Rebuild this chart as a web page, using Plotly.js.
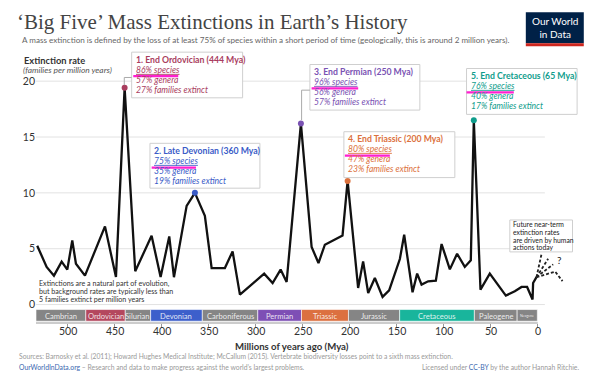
<!DOCTYPE html>
<html><head><meta charset="utf-8">
<script src="https://cdn.plot.ly/plotly-3.0.1.min.js"></script>
<style>html,body{margin:0;padding:0;background:#fff;} #chart{width:590px;height:379px;}</style>
</head><body><div id="chart"></div>
<script>
// ---- data ----
const mya = [532.7, 522.7, 514.9, 506.7, 500.7, 495.4, 491.5, 481.9, 460.6, 448.9, 439.7, 428.4, 411, 401.4, 392.2, 387.2, 373.7, 364.9, 354.3, 347.1, 333, 324.8, 317, 291.2, 282.2, 273.7, 267.3, 252.1, 240.7, 233.4, 226.6, 207.8, 202.4, 191.2, 185.9, 180.5, 173.4, 165.2, 158.2, 146.8, 142.2, 133.3, 128.4, 123.7, 116.7, 108.5, 102.4, 93.6, 85.9, 77.7, 71.3, 68.1, 61, 51.1, 34, 24.5, 17.3, 11.4, 5.6, 5, 1.4];
const rate = [5.27, 3.37, 2.59, 3.84, 3.13, 5.74, 3.66, 2.59, 7.0, 2.47, 19.4, 2.98, 6.16, 2.47, 6.1, 2.45, 8.84, 10.0, 7.95, 3.27, 3.27, 4.76, 0.89, 2.77, 1.93, 3.13, 2.02, 16.2, 5.15, 3.72, 5.36, 6.19, 11.07, 1.49, 3.87, 1.04, 2.38, 0.69, 1.28, 4.08, 6.25, 1.1, 2.77, 1.79, 2.08, 2.14, 5.42, 3.15, 4.55, 3.37, 3.96, 16.5, 1.34, 2.77, 0.8, 1.19, 1.58, 1.58, 0.45, 1.93, 2.45];

const eventNames = ['1. End Ordovician (444 Mya)', '2. Late Devonian (360 Mya)', '3. End Permian (250 Mya)', '4. End Triassic (200 Mya)', '5. End Cretaceous (65 Mya)'];
const eventMya = [439.7, 364.9, 252.1, 202.4, 68.1];
const eventRate = [19.4, 10.0, 16.2, 11.07, 16.5];
const eventSpecies = ['86% species', '75% species', '96% species', '80% species', '76% species'];
const eventGenera = ['57% genera', '35% genera', '56% genera', '47% genera', '40% genera'];
const eventFamilies = ['27% families extinct', '19% families extinct', '57% families extinct', '23% families extinct', '17% families extinct'];
const eventColors = ['#a93d5e', '#3a5bc7', '#7a52b3', '#dc713d', '#0f9d8c'];

const periodNames = ['Cambrian', 'Ordovician', 'Silurian', 'Devonian', 'Carboniferous', 'Permian', 'Triassic', 'Jurassic', 'Cretaceous', 'Paleogene', 'Neogene'];
const periodStart = [541, 481, 439, 412, 357, 298, 251.5, 201.5, 147, 67.5, 22];
const periodEnd = [481, 439, 412, 357, 298, 251.5, 201.5, 147, 67.5, 22, 0.5];
const periodColors = ['#858585', '#b4475e', '#858585', '#3d5fcb', '#858585', '#7e4fb5', '#dc7040', '#858585', '#19b59c', '#858585', '#858585'];

const futureMya = [[1.4, -3.9], [1.4, -11], [1.4, -16.3], [1.4, -18.5, -26.3]];
const futureRate = [[2.45, 4.5], [2.45, 4.1], [2.45, 3.6], [2.45, 2.95, 2.1]];

const yTicks = [0, 5, 10, 15, 20];
const xTicks = [500, 450, 400, 350, 300, 250, 200, 150, 100, 50, 0];

// ---- layout geometry ----
const W = 590, H = 379, ML = 36, MR = 23.8, MT = 69.8, MB = 55.5;
const PW = W - ML - MR, PH = H - MT - MB;
const px = X => (X - ML) / PW;
const py = Y => (H - MB - Y) / PH;
const FONT = 'Lato, "Open Sans", sans-serif';
// multi-line text block: base size sets line spacing, spans set glyph size
const tight = (lines, size) => lines.map(l => '<span style="font-size:' + size + 'px">' + l + '</span>').join('<br>');

const traces = [];
traces.push({x: mya, y: rate, type: 'scatter', mode: 'lines', line: {color: '#111', width: 2.3}, hoverinfo: 'skip'});
futureMya.forEach((fx, i) => traces.push({x: fx, y: futureRate[i], type: 'scatter', mode: 'lines', line: {color: '#222', width: 1.8, dash: '3px,2px'}, hoverinfo: 'skip'}));
traces.push({x: eventMya, y: eventRate, type: 'scatter', mode: 'markers', marker: {color: eventColors, size: 6}, hoverinfo: 'skip'});

const shapes = [];
const annotations = [];
// gridlines
yTicks.forEach(v => shapes.push({type: 'line', xref: 'x', yref: 'y', x0: 534, x1: -7.5, y0: v, y1: v, line: {color: '#e2e2e2', width: 1}, layer: 'below'}));
// period bar
periodNames.forEach((n, i) => {
  shapes.push({type: 'rect', xref: 'x', yref: 'paper', x0: Math.min(periodStart[i], 534), x1: periodEnd[i], y0: py(321.7), y1: py(310), fillcolor: periodColors[i], line: {color: '#fff', width: 0.6}});
  annotations.push({xref: 'x', yref: 'paper', x: (Math.min(periodStart[i], 534) + periodEnd[i]) / 2, y: py(316), text: n, showarrow: false, font: {family: FONT, size: n === 'Neogene' ? 3.5 : 7.6, color: 'rgba(255,255,255,0.85)'}, xanchor: 'center', yanchor: 'middle'});
});
// x axis line
shapes.push({type: 'line', xref: 'x', yref: 'paper', x0: 534, x1: 0, y0: 0, y1: 0, line: {color: '#999', width: 1}});
// x tick labels
xTicks.forEach(v => annotations.push({xref: 'x', yref: 'paper', x: v, y: py(332), xanchor: 'center', yanchor: 'middle', text: String(v), showarrow: false, borderpad: 0, font: {family: FONT, size: 10.5, color: '#333'}}));

// event boxes [left, top, right, bottom] in pixels
const boxes = [[131.7, 51.9, 242.7, 97.7], [150, 143.3, 260, 188.3], [310, 64.3, 420, 110], [344, 131.7, 455, 177.7], [466.7, 68.3, 577.3, 114.3]];
const hl = [[133.3, 178.3, 75.9], [151.7, 196, 167.7], [311.7, 358.3, 88.3], [345, 390, 155.6], [466.7, 514, 92.3]];
boxes.forEach((b, i) => {
  shapes.push({type: 'rect', xref: 'paper', yref: 'paper', x0: px(b[0]), x1: px(b[2]), y0: py(b[3]), y1: py(b[1]), fillcolor: 'rgba(255,255,255,0.92)', line: {color: '#cfcfcf', width: 1}});
  const txt = '<span style="font-size:8.7px"><b>' + eventNames[i] + '</b></span><br>' +
    tight(['<i><u>' + eventSpecies[i] + '</u></i>', '<i>' + eventGenera[i] + '</i>', '<i>' + eventFamilies[i] + '</i>'], 8.6);
  annotations.push({xref: 'paper', yref: 'paper', x: px(b[0] + 3), y: py(b[1] + 22.3), xanchor: 'left', yanchor: 'middle', align: 'left', showarrow: false, borderpad: 0,
    text: txt, font: {family: FONT, size: 7.6, color: eventColors[i]}});
  shapes.push({type: 'line', xref: 'paper', yref: 'paper', x0: px(hl[i][0]), x1: px(hl[i][1]), y0: py(hl[i][2]), y1: py(hl[i][2]), line: {color: '#ff1fd0', width: 2.2}});
});
// connectors
shapes.push({type: 'path', xref: 'paper', yref: 'paper', path: `M ${px(124.3)} ${py(85)} L ${px(124.3)} ${py(77.3)} L ${px(131.7)} ${py(77.3)}`, line: {color: '#aaa', width: 1}});
shapes.push({type: 'path', xref: 'paper', yref: 'paper', path: `M ${px(301.7)} ${py(120)} L ${px(301.7)} ${py(90)} L ${px(310)} ${py(90)}`, line: {color: '#aaa', width: 1}});

// future box
shapes.push({type: 'rect', xref: 'paper', yref: 'paper', x0: px(510), x1: px(572.7), y0: py(252.2), y1: py(220.2), fillcolor: 'rgba(255,255,255,0.92)', line: {color: '#cfcfcf', width: 1}});
annotations.push({xref: 'paper', yref: 'paper', x: px(512), y: py(236.2), xanchor: 'left', yanchor: 'middle', align: 'left', borderpad: 0, showarrow: false,
  text: tight(['Future near-term', 'extinction rates', 'are driven by human', 'actions today'], 6.8), font: {family: FONT, size: 6.0, color: '#222'}});
annotations.push({xref: 'x', yref: 'y', x: -23.4, y: 4.0, text: '?', showarrow: false, font: {family: FONT, size: 10, color: '#222'}});

// background note
annotations.push({xref: 'paper', yref: 'paper', x: px(38), y: py(292.3), xanchor: 'left', yanchor: 'middle', align: 'left', borderpad: 0, showarrow: false,
  text: tight(['Extinctions are a natural part of evolution,', 'but background rates are typically less than', '5 families extinct per million years'], 7.1), font: {family: FONT, size: 6.15, color: '#333'}});

// y axis title
annotations.push({xref: 'paper', yref: 'paper', x: px(22.5), y: py(60.4), xanchor: 'left', yanchor: 'middle', borderpad: 0, text: '<b>Extinction rate</b>', showarrow: false, font: {family: FONT, size: 9.3, color: '#333'}});
annotations.push({xref: 'paper', yref: 'paper', x: px(21.5), y: py(69.4), xanchor: 'left', yanchor: 'middle', borderpad: 0, text: '<i>(families per million years)</i>', showarrow: false, font: {family: FONT, size: 8.4, color: '#555'}});
// x axis title
annotations.push({xref: 'paper', yref: 'paper', x: px(292), y: py(347.5), xanchor: 'center', yanchor: 'middle', borderpad: 0, text: '<b>Millions of years ago (Mya)</b>', showarrow: false, font: {family: FONT, size: 9.6, color: '#333'}});
// subtitle
annotations.push({xref: 'paper', yref: 'paper', x: px(20), y: py(40), xanchor: 'left', yanchor: 'middle', text: 'A mass extinction is defined by the loss of at least 75% of species within a short period of time (geologically, this is around 2 million years).', showarrow: false, font: {family: FONT, size: 8.1, color: '#666'}});
// logo
shapes.push({type: 'rect', xref: 'paper', yref: 'paper', x0: px(526), x1: px(584), y0: py(43), y1: py(12), fillcolor: '#002147', line: {width: 0}});
shapes.push({type: 'rect', xref: 'paper', yref: 'paper', x0: px(526), x1: px(584), y0: py(46), y1: py(43), fillcolor: '#ce261e', line: {width: 0}});
annotations.push({xref: 'paper', yref: 'paper', x: px(555), y: py(27.5), xanchor: 'center', yanchor: 'middle', text: 'Our World<br>in Data', showarrow: false, font: {family: FONT, size: 10, color: '#fff'}});
// footer
annotations.push({xref: 'paper', yref: 'paper', x: px(17), y: py(357.5), xanchor: 'left', yanchor: 'middle', text: 'Sources: Barnosky et al. (2011); Howard Hughes Medical Institute; McCallum (2015). Vertebrate biodiversity losses point to a sixth mass extinction.', showarrow: false, font: {family: FONT, size: 6.75, color: '#999'}});
annotations.push({xref: 'paper', yref: 'paper', x: px(17), y: py(367.5), xanchor: 'left', yanchor: 'middle', text: '<span style="color:#3b67b0">OurWorldInData.org</span> – Research and data to make progress against the world’s largest problems.', showarrow: false, font: {family: FONT, size: 6.8, color: '#999'}});
annotations.push({xref: 'paper', yref: 'paper', x: px(581), y: py(367.5), xanchor: 'right', yanchor: 'middle', text: 'Licensed under <span style="color:#3b67b0">CC-BY</span> by the author Hannah Ritchie.', showarrow: false, font: {family: FONT, size: 6.8, color: '#999'}});

const layout = {
  width: W, height: H,
  margin: {l: ML, r: MR, t: MT, b: MB, pad: 0},
  paper_bgcolor: '#fff', plot_bgcolor: 'rgba(0,0,0,0)',
  showlegend: false,
  title: {text: '‘Big Five’ Mass Extinctions in Earth’s History', x: 17 / W, xref: 'container', xanchor: 'left', y: 1 - 22 / H, yref: 'container', yanchor: 'middle', font: {family: '"Liberation Serif", "DejaVu Serif", serif', size: 21, color: '#444'}},
  xaxis: {range: [534, -30], tickvals: xTicks, ticks: 'outside', ticklen: 4, tickcolor: '#999', showticklabels: false, showgrid: false, zeroline: false, showline: false, fixedrange: true},
  yaxis: {range: [-1.65, 21], tickvals: yTicks, ticktext: yTicks.map(String), ticks: '', showgrid: false, zeroline: false, showline: false, tickfont: {family: FONT, size: 10.5, color: '#333'}, fixedrange: true},
  shapes: shapes, annotations: annotations
};
Plotly.newPlot('chart', traces, layout, {staticPlot: true, displayModeBar: false});
</script></body></html>
